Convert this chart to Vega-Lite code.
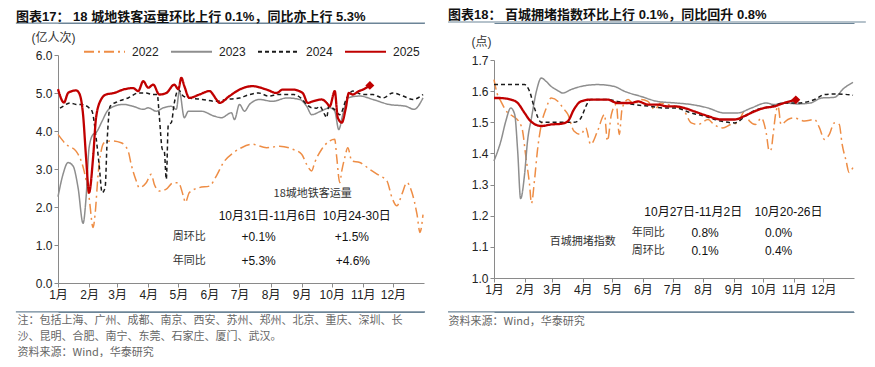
{
  "$schema": "https://vega.github.io/schema/vega-lite/v6.json",
  "padding": {"left": 15, "top": 9, "right": 5, "bottom": 0},
  "bounds": "flush",
  "spacing": 70,
  "center": true,
  "config": {
    "font": "Liberation Sans, Noto Sans CJK SC",
    "view": {"stroke": null},
    "axis": {"grid": false, "domainColor": "#8a8a8a", "tickColor": "#8a8a8a", "tickSize": 4, "labelFontSize": 12, "labelColor": "#222", "labelOverlap": false, "labelBound": false, "labelFont": "Liberation Sans, Noto Sans CJK SC"},
    "axisX": {"labelOverlap": false, "labelFlush": false},
    "axisY": {"labelOverlap": false},
    "legend": {"labelFontSize": 12, "labelColor": "#222"}
  },
  "datasets": {
    "metro": [
      {"s":"2022","d":0,"v":3.91},{"s":"2022","d":8,"v":3.65},{"s":"2022","d":18,"v":3.47},{"s":"2022","d":26,"v":2.95},{"s":"2022","d":31,"v":2.25},{"s":"2022","d":35,"v":1.46},{"s":"2022","d":37,"v":1.81},{"s":"2022","d":40,"v":2.86},{"s":"2022","d":43,"v":3.47},{"s":"2022","d":46,"v":3.69},{"s":"2022","d":53,"v":3.74},{"s":"2022","d":63,"v":3.69},{"s":"2022","d":70,"v":3.47},{"s":"2022","d":73,"v":3.12},{"s":"2022","d":78,"v":2.69},{"s":"2022","d":81,"v":2.51},{"s":"2022","d":88,"v":2.64},{"s":"2022","d":93,"v":2.86},{"s":"2022","d":96,"v":2.6},{"s":"2022","d":101,"v":2.42},{"s":"2022","d":108,"v":2.47},{"s":"2022","d":115,"v":2.64},{"s":"2022","d":120,"v":2.64},{"s":"2022","d":125,"v":2.29},{"s":"2022","d":127,"v":2.12},{"s":"2022","d":131,"v":2.38},{"s":"2022","d":141,"v":2.51},{"s":"2022","d":151,"v":2.55},{"s":"2022","d":158,"v":2.82},{"s":"2022","d":165,"v":3.17},{"s":"2022","d":175,"v":3.43},{"s":"2022","d":183,"v":3.56},{"s":"2022","d":194,"v":3.65},{"s":"2022","d":208,"v":3.56},{"s":"2022","d":221,"v":3.6},{"s":"2022","d":234,"v":3.52},{"s":"2022","d":243,"v":3.39},{"s":"2022","d":248,"v":3.12},{"s":"2022","d":253,"v":2.95},{"s":"2022","d":256,"v":3.17},{"s":"2022","d":263,"v":3.52},{"s":"2022","d":271,"v":3.74},{"s":"2022","d":276,"v":3.78},{"s":"2022","d":278,"v":3.3},{"s":"2022","d":281,"v":2.64},{"s":"2022","d":283,"v":2.95},{"s":"2022","d":286,"v":3.3},{"s":"2022","d":289,"v":3.56},{"s":"2022","d":293,"v":3.21},{"s":"2022","d":301,"v":3.17},{"s":"2022","d":311,"v":2.99},{"s":"2022","d":321,"v":2.82},{"s":"2022","d":328,"v":2.69},{"s":"2022","d":333,"v":2.25},{"s":"2022","d":338,"v":2.03},{"s":"2022","d":343,"v":2.34},{"s":"2022","d":348,"v":2.64},{"s":"2022","d":353,"v":2.38},{"s":"2022","d":358,"v":1.81},{"s":"2022","d":361,"v":1.33},{"s":"2022","d":364,"v":1.8},
      {"s":"2023","d":0,"v":2.27},{"s":"2023","d":5,"v":2.86},{"s":"2023","d":10,"v":3.17},{"s":"2023","d":15,"v":3.08},{"s":"2023","d":20,"v":2.51},{"s":"2023","d":25,"v":1.57},{"s":"2023","d":28,"v":2.25},{"s":"2023","d":31,"v":3.56},{"s":"2023","d":35,"v":3.91},{"s":"2023","d":38,"v":3.96},{"s":"2023","d":44,"v":4.26},{"s":"2023","d":49,"v":4.52},{"s":"2023","d":56,"v":4.65},{"s":"2023","d":65,"v":4.7},{"s":"2023","d":75,"v":4.65},{"s":"2023","d":85,"v":4.57},{"s":"2023","d":90,"v":4.61},{"s":"2023","d":98,"v":4.52},{"s":"2023","d":105,"v":4.61},{"s":"2023","d":113,"v":4.65},{"s":"2023","d":118,"v":4.57},{"s":"2023","d":121,"v":5.05},{"s":"2023","d":126,"v":4.35},{"s":"2023","d":130,"v":4.52},{"s":"2023","d":143,"v":4.52},{"s":"2023","d":156,"v":4.39},{"s":"2023","d":163,"v":4.35},{"s":"2023","d":173,"v":4.48},{"s":"2023","d":176,"v":4.3},{"s":"2023","d":181,"v":4.7},{"s":"2023","d":186,"v":4.52},{"s":"2023","d":191,"v":4.7},{"s":"2023","d":201,"v":4.83},{"s":"2023","d":214,"v":4.78},{"s":"2023","d":228,"v":4.87},{"s":"2023","d":241,"v":4.83},{"s":"2023","d":248,"v":4.65},{"s":"2023","d":253,"v":4.43},{"s":"2023","d":262,"v":4.52},{"s":"2023","d":271,"v":4.61},{"s":"2023","d":276,"v":4.52},{"s":"2023","d":280,"v":4.04},{"s":"2023","d":284,"v":4.43},{"s":"2023","d":289,"v":4.87},{"s":"2023","d":301,"v":4.92},{"s":"2023","d":314,"v":4.83},{"s":"2023","d":330,"v":4.7},{"s":"2023","d":347,"v":4.65},{"s":"2023","d":355,"v":4.57},{"s":"2023","d":364,"v":4.87},
      {"s":"2024","d":2,"v":4.6},{"s":"2024","d":5,"v":4.65},{"s":"2024","d":12,"v":4.74},{"s":"2024","d":18,"v":4.7},{"s":"2024","d":23,"v":4.7},{"s":"2024","d":31,"v":4.61},{"s":"2024","d":34,"v":4.52},{"s":"2024","d":38,"v":3.82},{"s":"2024","d":41,"v":3.12},{"s":"2024","d":44,"v":2.38},{"s":"2024","d":47,"v":2.51},{"s":"2024","d":49,"v":3.74},{"s":"2024","d":52,"v":4.65},{"s":"2024","d":60,"v":4.78},{"s":"2024","d":70,"v":4.87},{"s":"2024","d":80,"v":5.0},{"s":"2024","d":88,"v":5.0},{"s":"2024","d":94,"v":4.96},{"s":"2024","d":99,"v":4.96},{"s":"2024","d":101,"v":4.4},{"s":"2024","d":104,"v":3.52},{"s":"2024","d":106,"v":3.47},{"s":"2024","d":108,"v":2.73},{"s":"2024","d":110,"v":4.17},{"s":"2024","d":113,"v":4.22},{"s":"2024","d":116,"v":4.74},{"s":"2024","d":120,"v":5.09},{"s":"2024","d":125,"v":4.92},{"s":"2024","d":131,"v":4.87},{"s":"2024","d":144,"v":4.83},{"s":"2024","d":158,"v":4.78},{"s":"2024","d":168,"v":4.83},{"s":"2024","d":181,"v":4.87},{"s":"2024","d":190,"v":4.95},{"s":"2024","d":200,"v":5.0},{"s":"2024","d":210,"v":4.92},{"s":"2024","d":220,"v":4.96},{"s":"2024","d":235,"v":4.96},{"s":"2024","d":242,"v":4.87},{"s":"2024","d":248,"v":4.7},{"s":"2024","d":253,"v":4.61},{"s":"2024","d":258,"v":4.6},{"s":"2024","d":261,"v":4.65},{"s":"2024","d":266,"v":4.43},{"s":"2024","d":268,"v":4.35},{"s":"2024","d":270,"v":4.65},{"s":"2024","d":276,"v":4.56},{"s":"2024","d":281,"v":4.43},{"s":"2024","d":288,"v":4.87},{"s":"2024","d":294,"v":5.05},{"s":"2024","d":304,"v":4.96},{"s":"2024","d":314,"v":4.96},{"s":"2024","d":324,"v":4.87},{"s":"2024","d":334,"v":5.0},{"s":"2024","d":344,"v":4.92},{"s":"2024","d":354,"v":4.83},{"s":"2024","d":364,"v":4.96},
      {"s":"2025","d":0,"v":5.1},{"s":"2025","d":6,"v":4.75},{"s":"2025","d":10,"v":5.0},{"s":"2025","d":14,"v":5.05},{"s":"2025","d":18,"v":5.07},{"s":"2025","d":21,"v":5.0},{"s":"2025","d":25,"v":4.43},{"s":"2025","d":28,"v":3.3},{"s":"2025","d":31,"v":2.38},{"s":"2025","d":35,"v":3.3},{"s":"2025","d":38,"v":4.36},{"s":"2025","d":43,"v":4.83},{"s":"2025","d":48,"v":4.96},{"s":"2025","d":56,"v":5.0},{"s":"2025","d":65,"v":5.09},{"s":"2025","d":75,"v":5.13},{"s":"2025","d":80,"v":5.05},{"s":"2025","d":85,"v":5.31},{"s":"2025","d":90,"v":5.14},{"s":"2025","d":95,"v":5.22},{"s":"2025","d":101,"v":4.96},{"s":"2025","d":108,"v":5.0},{"s":"2025","d":116,"v":5.22},{"s":"2025","d":120,"v":5.1},{"s":"2025","d":123,"v":5.4},{"s":"2025","d":126,"v":5.18},{"s":"2025","d":131,"v":4.87},{"s":"2025","d":141,"v":4.96},{"s":"2025","d":151,"v":5.05},{"s":"2025","d":158,"v":4.83},{"s":"2025","d":161,"v":4.74},{"s":"2025","d":171,"v":4.92},{"s":"2025","d":181,"v":5.09},{"s":"2025","d":194,"v":5.18},{"s":"2025","d":208,"v":5.09},{"s":"2025","d":218,"v":5.0},{"s":"2025","d":224,"v":5.09},{"s":"2025","d":234,"v":5.09},{"s":"2025","d":244,"v":5.0},{"s":"2025","d":249,"v":4.74},{"s":"2025","d":254,"v":4.78},{"s":"2025","d":263,"v":4.83},{"s":"2025","d":268,"v":4.74},{"s":"2025","d":271,"v":4.65},{"s":"2025","d":276,"v":5.05},{"s":"2025","d":279,"v":4.35},{"s":"2025","d":283,"v":4.22},{"s":"2025","d":287,"v":4.6},{"s":"2025","d":290,"v":5.0},{"s":"2025","d":294,"v":4.96},{"s":"2025","d":300,"v":5.05},{"s":"2025","d":304,"v":5.09},{"s":"2025","d":311,"v":5.2}
    ],
    "traffic": [
      {"s":"2022","d":0,"v":1.637},{"s":"2022","d":3,"v":1.594},{"s":"2022","d":7,"v":1.567},{"s":"2022","d":14,"v":1.53},{"s":"2022","d":19,"v":1.52},{"s":"2022","d":26,"v":1.498},{"s":"2022","d":29,"v":1.472},{"s":"2022","d":32,"v":1.397},{"s":"2022","d":36,"v":1.301},{"s":"2022","d":38,"v":1.24},{"s":"2022","d":41,"v":1.312},{"s":"2022","d":44,"v":1.408},{"s":"2022","d":48,"v":1.493},{"s":"2022","d":53,"v":1.546},{"s":"2022","d":58,"v":1.578},{"s":"2022","d":65,"v":1.567},{"s":"2022","d":70,"v":1.546},{"s":"2022","d":75,"v":1.525},{"s":"2022","d":81,"v":1.472},{"s":"2022","d":88,"v":1.461},{"s":"2022","d":93,"v":1.482},{"s":"2022","d":98,"v":1.429},{"s":"2022","d":105,"v":1.472},{"s":"2022","d":112,"v":1.525},{"s":"2022","d":115,"v":1.44},{"s":"2022","d":119,"v":1.525},{"s":"2022","d":124,"v":1.557},{"s":"2022","d":127,"v":1.461},{"s":"2022","d":130,"v":1.546},{"s":"2022","d":136,"v":1.573},{"s":"2022","d":142,"v":1.557},{"s":"2022","d":149,"v":1.573},{"s":"2022","d":156,"v":1.567},{"s":"2022","d":163,"v":1.541},{"s":"2022","d":169,"v":1.562},{"s":"2022","d":176,"v":1.557},{"s":"2022","d":184,"v":1.551},{"s":"2022","d":193,"v":1.535},{"s":"2022","d":200,"v":1.498},{"s":"2022","d":207,"v":1.493},{"s":"2022","d":217,"v":1.509},{"s":"2022","d":223,"v":1.493},{"s":"2022","d":232,"v":1.482},{"s":"2022","d":240,"v":1.493},{"s":"2022","d":247,"v":1.498},{"s":"2022","d":254,"v":1.535},{"s":"2022","d":259,"v":1.504},{"s":"2022","d":265,"v":1.493},{"s":"2022","d":271,"v":1.514},{"s":"2022","d":276,"v":1.466},{"s":"2022","d":279,"v":1.408},{"s":"2022","d":281,"v":1.413},{"s":"2022","d":283,"v":1.461},{"s":"2022","d":286,"v":1.535},{"s":"2022","d":288,"v":1.551},{"s":"2022","d":291,"v":1.493},{"s":"2022","d":298,"v":1.509},{"s":"2022","d":304,"v":1.514},{"s":"2022","d":315,"v":1.504},{"s":"2022","d":325,"v":1.509},{"s":"2022","d":330,"v":1.482},{"s":"2022","d":335,"v":1.445},{"s":"2022","d":340,"v":1.461},{"s":"2022","d":345,"v":1.498},{"s":"2022","d":350,"v":1.493},{"s":"2022","d":353,"v":1.429},{"s":"2022","d":357,"v":1.376},{"s":"2022","d":360,"v":1.339},{"s":"2022","d":364,"v":1.355},
      {"s":"2023","d":0,"v":1.376},{"s":"2023","d":7,"v":1.44},{"s":"2023","d":12,"v":1.504},{"s":"2023","d":17,"v":1.546},{"s":"2023","d":21,"v":1.525},{"s":"2023","d":24,"v":1.408},{"s":"2023","d":27,"v":1.255},{"s":"2023","d":31,"v":1.333},{"s":"2023","d":34,"v":1.44},{"s":"2023","d":38,"v":1.514},{"s":"2023","d":43,"v":1.6},{"s":"2023","d":48,"v":1.642},{"s":"2023","d":53,"v":1.631},{"s":"2023","d":58,"v":1.615},{"s":"2023","d":63,"v":1.605},{"s":"2023","d":70,"v":1.594},{"s":"2023","d":78,"v":1.605},{"s":"2023","d":88,"v":1.615},{"s":"2023","d":105,"v":1.621},{"s":"2023","d":122,"v":1.615},{"s":"2023","d":132,"v":1.6},{"s":"2023","d":149,"v":1.583},{"s":"2023","d":166,"v":1.567},{"s":"2023","d":184,"v":1.562},{"s":"2023","d":200,"v":1.557},{"s":"2023","d":217,"v":1.546},{"s":"2023","d":233,"v":1.53},{"s":"2023","d":247,"v":1.53},{"s":"2023","d":261,"v":1.546},{"s":"2023","d":276,"v":1.562},{"s":"2023","d":284,"v":1.557},{"s":"2023","d":294,"v":1.562},{"s":"2023","d":308,"v":1.559},{"s":"2023","d":321,"v":1.562},{"s":"2023","d":332,"v":1.578},{"s":"2023","d":345,"v":1.58},{"s":"2023","d":355,"v":1.61},{"s":"2023","d":364,"v":1.628},
      {"s":"2024","d":0,"v":1.621},{"s":"2024","d":31,"v":1.621},{"s":"2024","d":36,"v":1.6},{"s":"2024","d":41,"v":1.546},{"s":"2024","d":48,"v":1.5},{"s":"2024","d":65,"v":1.5},{"s":"2024","d":81,"v":1.5},{"s":"2024","d":87,"v":1.509},{"s":"2024","d":95,"v":1.562},{"s":"2024","d":98,"v":1.573},{"s":"2024","d":115,"v":1.573},{"s":"2024","d":125,"v":1.567},{"s":"2024","d":142,"v":1.557},{"s":"2024","d":159,"v":1.551},{"s":"2024","d":172,"v":1.546},{"s":"2024","d":184,"v":1.546},{"s":"2024","d":200,"v":1.53},{"s":"2024","d":213,"v":1.52},{"s":"2024","d":230,"v":1.504},{"s":"2024","d":244,"v":1.498},{"s":"2024","d":257,"v":1.525},{"s":"2024","d":267,"v":1.541},{"s":"2024","d":281,"v":1.551},{"s":"2024","d":294,"v":1.562},{"s":"2024","d":308,"v":1.562},{"s":"2024","d":325,"v":1.573},{"s":"2024","d":335,"v":1.589},{"s":"2024","d":348,"v":1.591},{"s":"2024","d":364,"v":1.587},
      {"s":"2025","d":0,"v":1.578},{"s":"2025","d":5,"v":1.578},{"s":"2025","d":17,"v":1.573},{"s":"2025","d":24,"v":1.562},{"s":"2025","d":31,"v":1.53},{"s":"2025","d":37,"v":1.504},{"s":"2025","d":48,"v":1.488},{"s":"2025","d":58,"v":1.493},{"s":"2025","d":68,"v":1.495},{"s":"2025","d":75,"v":1.504},{"s":"2025","d":81,"v":1.541},{"s":"2025","d":88,"v":1.567},{"s":"2025","d":98,"v":1.573},{"s":"2025","d":115,"v":1.573},{"s":"2025","d":125,"v":1.562},{"s":"2025","d":139,"v":1.562},{"s":"2025","d":146,"v":1.567},{"s":"2025","d":156,"v":1.557},{"s":"2025","d":166,"v":1.557},{"s":"2025","d":176,"v":1.551},{"s":"2025","d":184,"v":1.551},{"s":"2025","d":193,"v":1.546},{"s":"2025","d":203,"v":1.535},{"s":"2025","d":217,"v":1.52},{"s":"2025","d":230,"v":1.509},{"s":"2025","d":244,"v":1.509},{"s":"2025","d":254,"v":1.52},{"s":"2025","d":264,"v":1.535},{"s":"2025","d":274,"v":1.546},{"s":"2025","d":284,"v":1.551},{"s":"2025","d":294,"v":1.562},{"s":"2025","d":306,"v":1.572}
    ]
  },
  "hconcat": [
    {
      "width": 366,
      "height": 228,
      "resolve": {"axis": {"x": "independent", "y": "independent"}},
      "title": {"text": "图表17：  18 城地铁客运量环比上行 0.1%，同比亦上行 5.3%", "anchor": "start", "frame": "group", "dx": -42, "offset": -2, "fontSize": 13, "fontWeight": "bold", "color": "#111"},
      "layer": [
        {
          "data": {"name": "metro"},
          "mark": {"type": "line", "interpolate": "monotone"},
          "encoding": {
            "x": {"field": "d", "type": "quantitative", "scale": {"domain": [0, 365], "nice": false, "zero": false},
              "axis": {"values": [0,31,59,90,120,151,181,212,243,273,304,334], "labelOverlap": false, "labelFlush": false, "labelExpr": "(indexof([0,31,59,90,120,151,181,212,243,273,304,334], datum.value) + 1) + '月'",
                "title": ["注：包括上海、广州、成都、南京、西安、苏州、郑州、北京、重庆、深圳、长", "沙、昆明、合肥、南宁、东莞、石家庄、厦门、武汉。", "资料来源：Wind，华泰研究"],
                "titleX": -41, "titleY": 31, "titleAlign": "left", "titleAnchor": null, "titleBaseline": "top", "titleFontSize": 11, "titleFontWeight": "normal", "titleColor": "#666", "titleLineHeight": 16, "titleFont": "Noto Sans CJK SC"}},
            "y": {"field": "v", "type": "quantitative", "scale": {"domain": [0, 6], "nice": false},
              "axis": {"values": [0,1,2,3,4,5,6], "labelOverlap": false, "format": ".1f", "title": "(亿人次)", "titleAngle": 0, "titleAlign": "left", "titleBaseline": "alphabetic", "titleX": -27, "titleY": -14, "titleFontSize": 12, "titleFontWeight": "normal", "titleColor": "#333"}},
            "color": {"field": "s", "type": "nominal", "scale": {"domain": ["2022","2023","2024","2025"], "range": ["#EE8D45","#8E8E8E","#1a1a1a","#C00000"]},
              "legend": {"title": null, "orient": "none", "legendX": 25, "legendY": -25, "direction": "horizontal", "symbolType": "stroke", "symbolSize": 1681, "symbolStrokeWidth": 2, "labelOffset": 6, "columnPadding": 8}},
            "strokeDash": {"field": "s", "type": "nominal", "scale": {"domain": ["2022","2023","2024","2025"], "range": [[10,4,2,4],[1,0],[4,3],[1,0]]},
              "legend": {"title": null, "orient": "none", "legendX": 25, "legendY": -25, "direction": "horizontal", "symbolType": "stroke", "symbolSize": 1681, "symbolStrokeWidth": 2, "labelOffset": 6, "columnPadding": 8}},
            "strokeWidth": {"condition": {"test": "datum.s === '2025'", "value": 2.3}, "value": 1.5}
          }
        },
        {
          "data": {"values": [{}]},
          "mark": {"type": "rule", "orient": "horizontal", "color": "#6d8597", "strokeWidth": 1.2, "clip": false},
          "encoding": {"x": {"datum": -42, "type": "quantitative", "axis": null}, "x2": {"datum": 366}, "y": {"datum": 6.84, "type": "quantitative", "axis": null}}
        },
        {
          "data": {"values": [{}]},
          "mark": {"type": "rule", "orient": "horizontal", "color": "#6d8597", "strokeWidth": 1.2, "clip": false},
          "encoding": {"x": {"datum": -42, "type": "quantitative", "axis": null}, "x2": {"datum": 366}, "y": {"datum": -0.76, "type": "quantitative", "axis": null}}
        },
        {
          "data": {"name": "metro"},
          "transform": [{"filter": "datum.s === '2025' && datum.d === 311"}],
          "mark": {"type": "point", "shape": "diamond", "filled": true, "color": "#C00000", "size": 80, "opacity": 1},
          "encoding": {"x": {"field": "d", "type": "quantitative", "axis": {"orient": "top", "offset": 32, "labels": false, "ticks": false, "title": null, "domainColor": "#6d8597", "domainWidth": 1.2}}, "y": {"field": "v", "type": "quantitative", "axis": null}}
        },
        {
          "data": {"values": [{"t":"18城地铁客运量","d":254,"v":2.34},{"t":"周环比","d":131,"v":1.2},{"t":"年同比","d":131,"v":0.585}]},
          "mark": {"type": "text", "font": "Noto Sans CJK SC", "fontSize": 11, "color": "#333"},
          "encoding": {"x": {"field": "d", "type": "quantitative", "axis": {"orient": "bottom", "offset": 29, "labels": false, "ticks": false, "title": null, "domainColor": "#6d8597", "domainWidth": 1.2}}, "y": {"field": "v", "type": "quantitative", "axis": null}, "text": {"field": "t"}}
        },
        {
          "data": {"values": [{"t":"10月31日-11月6日","d":209,"v":1.77},{"t":"10月24-30日","d":298,"v":1.77},{"t":"+0.1%","d":200,"v":1.2},{"t":"+1.5%","d":293,"v":1.2},{"t":"+5.3%","d":200,"v":0.585},{"t":"+4.6%","d":294,"v":0.585}]},
          "mark": {"type": "text", "fontSize": 12, "color": "#111"},
          "encoding": {"x": {"field": "d", "type": "quantitative", "axis": null}, "y": {"field": "v", "type": "quantitative", "axis": null}, "text": {"field": "t"}}
        }
      ]
    },
    {
      "width": 360,
      "height": 218,
      "resolve": {"axis": {"x": "independent", "y": "independent"}},
      "title": {"text": "图表18：  百城拥堵指数环比上行 0.1%，同比回升 0.8%", "anchor": "start", "frame": "group", "dx": -46, "offset": -1, "fontSize": 13, "fontWeight": "bold", "color": "#111"},
      "layer": [
        {
          "data": {"name": "traffic"},
          "mark": {"type": "line", "interpolate": "monotone"},
          "encoding": {
            "x": {"field": "d", "type": "quantitative", "scale": {"domain": [0, 365], "nice": false, "zero": false},
              "axis": {"values": [0,31,59,90,120,151,181,212,243,273,304,334], "labelOverlap": false, "labelFlush": false, "labelExpr": "(indexof([0,31,59,90,120,151,181,212,243,273,304,334], datum.value) + 1) + '月'",
                "title": "资料来源：Wind，华泰研究",
                "titleX": -46, "titleY": 37, "titleAlign": "left", "titleAnchor": null, "titleBaseline": "top", "titleFontSize": 11, "titleFontWeight": "normal", "titleColor": "#666", "titleFont": "Noto Sans CJK SC"}},
            "y": {"field": "v", "type": "quantitative", "scale": {"domain": [1.0, 1.7], "nice": false, "zero": false},
              "axis": {"values": [1.0,1.1,1.2,1.3,1.4,1.5,1.6,1.7], "labelOverlap": false, "format": ".1f", "title": "(点)", "titleAngle": 0, "titleAlign": "left", "titleBaseline": "alphabetic", "titleX": -23, "titleY": -15, "titleFontSize": 12, "titleFontWeight": "normal", "titleColor": "#333"}},
            "color": {"field": "s", "type": "nominal", "scale": {"domain": ["2022","2023","2024","2025"], "range": ["#EE8D45","#8E8E8E","#1a1a1a","#C00000"]},
              "legend": {"title": null, "orient": "none", "legendX": 19, "legendY": -27, "direction": "horizontal", "symbolType": "stroke", "symbolSize": 1764, "symbolStrokeWidth": 2, "labelOffset": 4, "columnPadding": 8}},
            "strokeDash": {"field": "s", "type": "nominal", "scale": {"domain": ["2022","2023","2024","2025"], "range": [[10,4,2,4],[1,0],[4,3],[1,0]]},
              "legend": {"title": null, "orient": "none", "legendX": 19, "legendY": -27, "direction": "horizontal", "symbolType": "stroke", "symbolSize": 1764, "symbolStrokeWidth": 2, "labelOffset": 4, "columnPadding": 8}},
            "strokeWidth": {"condition": {"test": "datum.s === '2025'", "value": 2.3}, "value": 1.5}
          }
        },
        {
          "data": {"values": [{}]},
          "mark": {"type": "rule", "orient": "horizontal", "color": "#6d8597", "strokeWidth": 1.2, "clip": false},
          "encoding": {"x": {"datum": -46.6, "type": "quantitative", "axis": null}, "x2": {"datum": 377}, "y": {"datum": 1.822, "type": "quantitative", "axis": null}}
        },
        {
          "data": {"values": [{}]},
          "mark": {"type": "rule", "orient": "horizontal", "color": "#6d8597", "strokeWidth": 1.2, "clip": false},
          "encoding": {"x": {"datum": -46.6, "type": "quantitative", "axis": null}, "x2": {"datum": 365}, "y": {"datum": 0.891, "type": "quantitative", "axis": null}}
        },
        {
          "data": {"name": "traffic"},
          "transform": [{"filter": "datum.s === '2025' && datum.d === 306"}],
          "mark": {"type": "point", "shape": "diamond", "filled": true, "color": "#C00000", "size": 80, "opacity": 1},
          "encoding": {"x": {"field": "d", "type": "quantitative", "axis": {"orient": "top", "offset": 37, "labels": false, "ticks": false, "title": null, "domainColor": "#6d8597", "domainWidth": 1.2}}, "y": {"field": "v", "type": "quantitative", "axis": null}}
        },
        {
          "data": {"values": [{"t":"百城拥堵指数","d":90,"v":1.115},{"t":"年同比","d":156.5,"v":1.145},{"t":"周环比","d":156.5,"v":1.088}]},
          "mark": {"type": "text", "font": "Noto Sans CJK SC", "fontSize": 11, "color": "#333"},
          "encoding": {"x": {"field": "d", "type": "quantitative", "axis": {"orient": "bottom", "offset": 34, "labels": false, "ticks": false, "title": null, "domainColor": "#6d8597", "domainWidth": 1.2}}, "y": {"field": "v", "type": "quantitative", "axis": null}, "text": {"field": "t"}}
        },
        {
          "data": {"values": [{"t":"10月27日-11月2日","d":202,"v":1.211},{"t":"10月20-26日","d":298.6,"v":1.211},{"t":"0.8%","d":214,"v":1.145},{"t":"0.0%","d":288.5,"v":1.145},{"t":"0.1%","d":214,"v":1.088},{"t":"0.4%","d":288.5,"v":1.088}]},
          "mark": {"type": "text", "fontSize": 12, "color": "#111"},
          "encoding": {"x": {"field": "d", "type": "quantitative", "axis": null}, "y": {"field": "v", "type": "quantitative", "axis": null}, "text": {"field": "t"}}
        }
      ]
    }
  ]
}
